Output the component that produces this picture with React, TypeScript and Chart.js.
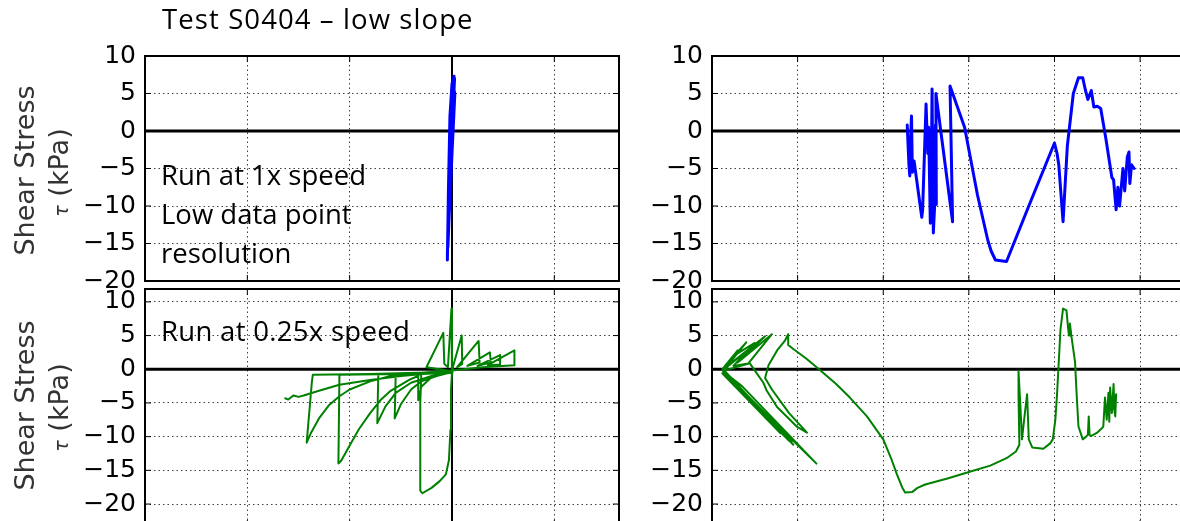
import React, { useEffect, useRef } from "react";
import { Chart, registerables } from "chart.js";

Chart.register(...registerables);

// ---------------- data ----------------
const yTickValues = [10, 5, 0, -5, -10, -15, -20];
const leftXTickValues = [-3, -2, -1, 0, 1];
const rightXTickValues = [0, 1, 2, 3, 4, 5];

const titleText = "Test S0404 \u2013 low slope";
const annotationTop = ["Run at 1x speed", "Low data point", "resolution"];
const annotationBottom = "Run at 0.25x speed";
const yLabelMain = "Shear Stress";
const yLabelSymbol = "\u03c4";
const yLabelUnit = "(kPa)";

// top-left: run at 1x speed, displacement (left panel units)
const topLeftBlue: [number, number][] = [
  [-0.045, -17.2], [-0.035, -8], [-0.02, 2], [0.0, 6.3], [0.02, 7.3], [0.01, 3],
  [-0.01, -5], [-0.04, -15.5], [-0.03, -6], [-0.005, 4], [0.025, 7.0], [0.005, 1],
  [-0.025, -9], [-0.045, -16.5], [-0.02, -2], [0.01, 6.0], [0.028, 5.0], [0.0, -3],
  [-0.03, -12], [-0.015, 0.5], [0.015, 6.8],
];

// top-right: run at 1x speed (right panel units)
const topRightBlue: [number, number][] = [
  [2.28, 0.8], [2.3, -4.5], [2.31, -6.0], [2.32, -1.0], [2.33, 2.0], [2.34, -5.5],
  [2.36, -4.0], [2.45, -11.5], [2.46, -10.5], [2.5, 3.6], [2.52, -3], [2.53, 0.5],
  [2.55, -12.3], [2.56, -8], [2.57, 5.6], [2.585, -13.6], [2.6, -10], [2.61, 0.8],
  [2.62, -9.8], [2.615, 5.0], [2.81, -12.1], [2.78, 6.0], [2.95, 0.5], [3.1, -8.5],
  [3.22, -14.5], [3.26, -16.0], [3.31, -17.2], [3.44, -17.4], [3.7, -10.0], [4.0, -1.6],
  [4.03, -3.0], [4.05, -4.5], [4.1, -12.1], [4.15, -2], [4.22, 5.0], [4.28, 7.1],
  [4.33, 7.1], [4.36, 5.5], [4.39, 4.2], [4.43, 5.4], [4.46, 3.2], [4.5, 3.3],
  [4.54, 3.0], [4.6, -1.0], [4.67, -6.2], [4.69, -6.5], [4.72, -10.5], [4.74, -7.5],
  [4.76, -10.0], [4.8, -5.0], [4.82, -8.0], [4.85, -3.5], [4.87, -2.8], [4.88, -7.0],
  [4.9, -4.5], [4.93, -5.0],
];

// bottom-left: run at 0.25x speed (left panel units)
const bottomLeftGreen: [number, number][] = [
  [0.0, -0.3], [-0.25, 0.3], [-0.085, 5.4], [-0.075, 0.8], [-0.04, 0.3], [-0.005, 9.0],
  [0.0, -1.0], [0.01, 0.4], [0.095, 5.0], [0.1, 0.8], [0.05, 0.3], [0.26, 4.2],
  [0.27, 1.0], [0.15, 0.5], [0.37, 2.5], [0.38, 1.0], [0.25, 0.5], [0.47, 2.1],
  [0.47, 0.7], [0.35, 0.6], [0.61, 2.8], [0.61, 0.6], [0.3, 0.3], [0.0, -0.2],
  [-0.15, -0.5], [-0.3, -0.6], [-0.31, -5.0], [-0.31, -18.0], [-0.29, -18.4],
  [-0.2, -17.6], [-0.12, -16.6], [-0.06, -15.6], [-0.03, -13.5], [-0.015, -9.0],
  [-0.01, -3.0], [0.0, -0.5], [-0.3, -0.7], [-0.55, -0.7], [-0.56, -7.3], [-0.5, -5.2],
  [-0.4, -3.0], [-0.3, -1.8], [-0.15, -1.0], [0.0, -0.4], [-0.4, -0.7], [-0.72, -0.7],
  [-0.73, -8.0], [-0.65, -5.5], [-0.55, -3.5], [-0.4, -2.0], [-0.2, -1.0], [0.0, -0.5],
  [-0.5, -0.7], [-1.1, -0.8], [-1.11, -14.0], [-1.08, -13.5], [-1.0, -11.3],
  [-0.91, -8.9], [-0.8, -6.5], [-0.7, -4.6], [-0.6, -3.2], [-0.41, -1.5], [-0.33, -1.0],
  [-0.33, -4.6], [-0.3, -2.6], [-0.2, -1.2], [-0.05, -0.4], [-0.8, -0.7], [-1.36, -0.8],
  [-1.37, -2.0], [-1.42, -10.9], [-1.38, -9.5], [-1.3, -7.3], [-1.2, -5.3], [-1.1, -4.0],
  [-1.0, -3.0], [-0.8, -1.8], [-0.6, -1.0], [-0.3, -0.5], [0.0, -0.2], [-0.2, -0.6],
  [-0.5, -1.0], [-0.8, -1.6], [-1.1, -2.3], [-1.3, -3.2], [-1.45, -3.9], [-1.5, -4.1],
  [-1.55, -3.9], [-1.6, -4.5], [-1.63, -4.3],
];

// bottom-right: run at 0.25x speed (right panel units)
const bottomRightGreen: [number, number][] = [
  [0.12, 0.0], [0.3, 2.8], [0.14, 0.3], [0.4, 4.0], [0.16, 0.2], [0.36, 3.4],
  [0.13, -0.3], [0.8, -9.5], [0.12, -0.6], [0.93, -10.8], [0.15, -0.8], [0.88, -10.3],
  [0.13, 0.0], [0.55, 4.2], [0.2, 0.6], [0.62, 4.9], [0.3, 1.0], [0.7, 5.2],
  [0.42, 0.8], [0.14, -0.2], [0.85, -10.0], [0.14, -0.5], [0.9, -10.6], [0.16, -0.9],
  [0.83, -9.2], [0.13, -0.3], [0.95, -11.2], [0.18, -1.0], [1.22, -14.0], [0.35, -2.5],
  [0.14, -0.4], [0.28, 2.2], [0.5, 3.9], [0.25, 0.5], [0.44, 0.9],
  [0.6, -2.0], [0.64, -3.2], [0.76, -5.6], [0.99, -8.5], [1.11, -9.4], [0.9, -6.5],
  [0.7, -3.0], [0.62, -1.3], [0.66, 0.6], [0.76, 2.8], [0.85, 4.2], [0.89, 5.2],
  [0.89, 3.6], [0.95, 3.0], [1.1, 1.6], [1.26, -0.1], [1.45, -2.2], [1.61, -4.2],
  [1.81, -7.0], [2.0, -10.4], [2.1, -13.5], [2.16, -15.6], [2.22, -17.5], [2.255, -18.3],
  [2.34, -18.2], [2.4, -17.6], [2.49, -17.1], [2.75, -16.2], [3.01, -15.2], [3.25, -14.3],
  [3.44, -13.2], [3.55, -12.2], [3.59, -11.2], [3.58, -4.0], [3.58, -0.3], [3.6, -5.0],
  [3.62, -10.4], [3.65, -7.0], [3.68, -3.7], [3.7, -10.4], [3.74, -11.6], [3.87, -11.8],
  [3.95, -11.0], [3.98, -10.4], [4.01, -7.5], [4.03, -3.7], [4.07, 5.9], [4.1, 9.0],
  [4.14, 8.75], [4.16, 6.0], [4.17, 5.0], [4.18, 6.8], [4.2, 4.7], [4.24, 1.1],
  [4.26, -4.0], [4.28, -8.5], [4.33, -10.4], [4.37, -10.0], [4.39, -9.7], [4.4, -7.0],
  [4.41, -9.8], [4.43, -9.9], [4.5, -9.4], [4.55, -8.8], [4.57, -8.5], [4.59, -4.2],
  [4.61, -7.5], [4.63, -3.5], [4.64, -7.8], [4.65, -2.7], [4.67, -6.5], [4.69, -2.2],
  [4.7, -6.0], [4.72, -3.7], [4.71, -7.0], [4.68, -4.5], [4.66, -5.5],
];

// ---------------- panels ----------------
type Panel = {
  id: string;
  left: number;
  top: number;
  width: number;
  height: number;
  axisWidth: number;
  padRight: number;
  xMin: number;
  xMax: number;
  yMin: number;
  yMax: number;
  xTicks: number[];
  points: [number, number][];
  color: string;
  lineWidth: number;
  zeroX: boolean;
  z: number;
};

const panels: Panel[] = [
  {
    id: "tl", left: 0, top: 32, width: 629, height: 273, axisWidth: 145, padRight: 10,
    xMin: -3, xMax: 1.632, yMin: -20, yMax: 10, xTicks: leftXTickValues,
    points: topLeftBlue, color: "#0000ff", lineWidth: 3, zeroX: true, z: 1,
  },
  {
    id: "tr", left: 622, top: 32, width: 620, height: 273, axisWidth: 90, padRight: 0,
    xMin: 0, xMax: 6.19, yMin: -20, yMax: 10, xTicks: rightXTickValues,
    points: topRightBlue, color: "#0000ff", lineWidth: 3, zeroX: false, z: 1,
  },
  {
    id: "bl", left: 0, top: 265, width: 629, height: 285, axisWidth: 145, padRight: 10,
    xMin: -3, xMax: 1.632, yMin: -23.26, yMax: 11.91, xTicks: leftXTickValues,
    points: bottomLeftGreen, color: "#008000", lineWidth: 2, zeroX: true, z: 2,
  },
  {
    id: "br", left: 622, top: 265, width: 620, height: 285, axisWidth: 90, padRight: 0,
    xMin: 0, xMax: 6.19, yMin: -23.26, yMax: 11.91, xTicks: rightXTickValues,
    points: bottomRightGreen, color: "#008000", lineWidth: 2, zeroX: false, z: 2,
  },
];

const fmtTick = (v: number) => (v < 0 ? "\u2212" + String(-v) : String(v));

function framePlugin(p: Panel) {
  return {
    id: "frame-" + p.id,
    beforeDraw(chart: any) {
      const { ctx, chartArea: a } = chart;
      ctx.save();
      ctx.fillStyle = "#ffffff";
      ctx.fillRect(a.left, a.top, a.right - a.left, a.bottom - a.top);
      ctx.restore();
    },
    beforeDatasetsDraw(chart: any) {
      const { ctx, chartArea: a, scales } = chart;
      ctx.save();
      ctx.strokeStyle = "#000";
      ctx.setLineDash([]);
      const y0 = scales.y.getPixelForValue(0);
      ctx.lineWidth = 3;
      ctx.beginPath();
      ctx.moveTo(a.left, y0);
      ctx.lineTo(a.right, y0);
      ctx.stroke();
      if (p.zeroX) {
        const x0 = scales.x.getPixelForValue(0);
        ctx.lineWidth = 2;
        ctx.beginPath();
        ctx.moveTo(x0, a.top);
        ctx.lineTo(x0, a.bottom);
        ctx.stroke();
      }
      ctx.restore();
    },
    afterDatasetsDraw(chart: any) {
      const { ctx, chartArea: a, scales } = chart;
      ctx.save();
      ctx.strokeStyle = "#000";
      ctx.setLineDash([]);
      ctx.lineWidth = 1;
      const tl = 6;
      ctx.beginPath();
      for (const t of scales.x.ticks) {
        const x = scales.x.getPixelForValue(t.value);
        ctx.moveTo(x, a.top);
        ctx.lineTo(x, a.top + tl);
        ctx.moveTo(x, a.bottom);
        ctx.lineTo(x, a.bottom - tl);
      }
      for (const t of scales.y.ticks) {
        const y = scales.y.getPixelForValue(t.value);
        ctx.moveTo(a.left, y);
        ctx.lineTo(a.left + tl, y);
        ctx.moveTo(a.right, y);
        ctx.lineTo(a.right - tl, y);
      }
      ctx.stroke();
      ctx.lineWidth = 2;
      ctx.strokeRect(a.left, a.top, a.right - a.left, a.bottom - a.top);
      ctx.restore();
    },
  };
}

function PanelChart({ p }: { p: Panel }) {
  const ref = useRef<HTMLCanvasElement | null>(null);
  useEffect(() => {
    if (!ref.current) return;
    const gridColor = "rgba(0,0,0,0.75)";
    const chart = new Chart(ref.current, {
      type: "scatter",
      data: {
        datasets: [
          {
            data: p.points.map(([x, y]) => ({ x, y })),
            showLine: true,
            borderColor: p.color,
            backgroundColor: p.color,
            borderWidth: p.lineWidth,
            pointRadius: 0,
            pointHoverRadius: 0,
            tension: 0,
            fill: false,
            borderJoinStyle: "round",
            borderCapStyle: "round",
          } as any,
        ],
      },
      options: {
        responsive: false,
        animation: false,
        events: [],
        layout: { padding: { left: 0, right: p.padRight, top: 20, bottom: 20 } },
        plugins: {
          legend: { display: false },
          tooltip: { enabled: false },
          title: { display: false },
        },
        scales: {
          x: {
            type: "linear",
            position: "bottom",
            min: p.xMin,
            max: p.xMax,
            afterBuildTicks: (s: any) => {
              s.ticks = p.xTicks.map((v) => ({ value: v }));
            },
            afterFit: (s: any) => {
              s.height = 0;
            },
            ticks: { display: false },
            grid: { color: gridColor, lineWidth: 1, drawTicks: false },
            border: { display: false, dash: [1.5, 3] },
          },
          y: {
            type: "linear",
            position: "left",
            min: p.yMin,
            max: p.yMax,
            afterBuildTicks: (s: any) => {
              s.ticks = yTickValues.map((v) => ({ value: v }));
            },
            afterFit: (s: any) => {
              s.width = p.axisWidth;
            },
            ticks: {
              display: true,
              autoSkip: false,
              padding: 9,
              color: "#000",
              font: { family: "'DejaVu Sans'", size: 25 },
              callback: (v: any) => fmtTick(Number(v)),
            },
            grid: { color: gridColor, lineWidth: 1, drawTicks: false },
            border: { display: false, dash: [1.5, 3] },
          },
        },
      } as any,
      plugins: [framePlugin(p)],
    });
    return () => chart.destroy();
  }, [p]);
  return (
    <canvas
      ref={ref}
      width={p.width}
      height={p.height}
      style={{
        position: "absolute",
        left: p.left,
        top: p.top,
        width: p.width,
        height: p.height,
        zIndex: p.z,
      }}
    />
  );
}

const textFont = "'Open Sans', 'Liberation Sans', sans-serif";
const textSize = 27.5;
const textStyle: React.CSSProperties = {
  position: "absolute",
  fontFamily: textFont,
  fontSize: textSize,
  lineHeight: textSize + "px",
  color: "#000",
  whiteSpace: "nowrap",
  zIndex: 5,
};

function RotLabel({ cx, cy, children }: { cx: number; cy: number; children: React.ReactNode }) {
  const w = 300;
  const h = 27;
  return (
    <div
      style={{
        position: "absolute",
        left: cx - w / 2,
        top: cy - h / 2,
        width: w,
        height: h,
        lineHeight: h + "px",
        fontFamily: "'DejaVu Sans', sans-serif",
        fontSize: 27,
        color: "#333",
        textAlign: "center",
        whiteSpace: "nowrap",
        transform: "rotate(-90deg)",
        zIndex: 5,
      }}
    >
      {children}
    </div>
  );
}

function Unit() {
  return (
    <>
      <span style={{ fontStyle: "italic", fontSize: 19 }}>{yLabelSymbol}</span> {yLabelUnit}
    </>
  );
}

export default function App() {
  return (
    <div
      style={{
        position: "fixed",
        left: 0,
        top: 0,
        width: 1180,
        height: 521,
        overflow: "hidden",
        background: "#fff",
      }}
    >
      {panels.map((p) => (
        <PanelChart key={p.id} p={p} />
      ))}
      <div style={{ ...textStyle, left: 162, top: 4.6, letterSpacing: 1.1 }}>{titleText}</div>
      <div style={{ ...textStyle, left: 161, top: 160.6 }}>{annotationTop[0]}</div>
      <div style={{ ...textStyle, left: 161, top: 199.6 }}>{annotationTop[1]}</div>
      <div style={{ ...textStyle, left: 161, top: 238.6 }}>{annotationTop[2]}</div>
      <div style={{ ...textStyle, left: 161, top: 317.3, letterSpacing: 0.3 }}>{annotationBottom}</div>
      <RotLabel cx={24.2} cy={170}>{yLabelMain}</RotLabel>
      <RotLabel cx={57.7} cy={172}>
        <Unit />
      </RotLabel>
      <RotLabel cx={24.2} cy={405.5}>{yLabelMain}</RotLabel>
      <RotLabel cx={57.7} cy={407}>
        <Unit />
      </RotLabel>
    </div>
  );
}
